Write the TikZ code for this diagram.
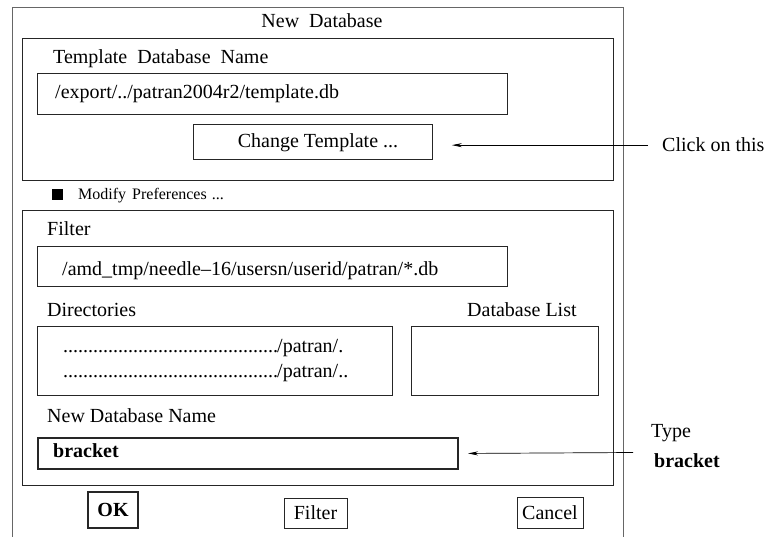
\documentclass[tikz,border=0pt]{standalone}
\usepackage{fontspec}
\setmainfont{Liberation Serif}
\usetikzlibrary{arrows.meta}

\begin{document}
\begin{tikzpicture}[x=1pt, y=-1pt, >={Stealth[length=10pt,width=4pt]}]
% Define styles
\tikzstyle{panel} = [rectangle, draw=black!85, line width=0.8pt, anchor=north west, inner sep=0pt]
\tikzstyle{button} = [rectangle, draw=black!85, line width=0.8pt, inner sep=0pt, font=\fontsize{20}{22}\selectfont]
\tikzstyle{txt} = [anchor=base west, inner sep=0pt, font=\fontsize{20}{22}\selectfont]
\tikzstyle{small} = [txt, font=\fontsize{16}{18}\selectfont]

\useasboundingbox (0,0) rectangle (767,537);

% Window frame
\draw [black!60, line width=1pt] (12,537) -- (12,8) -- (623,8) -- (623,537);
\node [txt, anchor=base] (title) at (322,28) {New\ \ Database};

% Template part
\node [panel, minimum width=591pt, minimum height=142pt] (tplpanel) at (22,38) {};
\node [txt] (tpllbl) at (53,64) {Template\ \ Database\ \ Name};
\node [panel, minimum width=470pt, minimum height=41pt] (tplfield) at (37,73) {};
\node [txt] (tplpath) at (55,99) {/export/../patran2004r2/template.db};
\node [panel, minimum width=239pt, minimum height=35pt] (chgbox) at (193,124) {};
\node [txt, anchor=base] (chglbl) at (318,148) {Change Template ...};

% Preferences toggle
\node [fill=black, anchor=north west, inner sep=0pt, minimum width=11pt, minimum height=11pt] (modbox) at (52,189) {};
\node [small] (modlbl) at (78,200) {Modify\hspace{6pt}Preferences\hspace{5pt}...};

% File part
\node [panel, minimum width=591pt, minimum height=275pt] (filepanel) at (22,210) {};
\node [txt] (filterlbl) at (47,235) {Filter};
\node [panel, minimum width=470pt, minimum height=40pt] (filterfield) at (37,246) {};
\node [txt] (filterpath) at (62,275) {/amd\_tmp/needle--16/usersn/userid/patran/*.db};
\node [txt] (dirlbl) at (47,316) {Directories};
\node [txt] (dblbl) at (467,316) {Database List};
\node [panel, minimum width=355pt, minimum height=69pt] (dirbox) at (37,326) {};
\node [txt] (dirone) at (63,352) {...........................................\kern-1pt/patran/.};
\node [txt] (dirtwo) at (63,377) {...........................................\kern-1pt/patran/..};
\node [panel, minimum width=187pt, minimum height=69pt] (dbbox) at (411,326) {};
\node [txt] (namelbl) at (47,422) {New Database Name};
\node [panel, line width=2pt, minimum width=420pt, minimum height=31pt] (namefield) at (37,437) {};
\node [txt, font=\fontsize{20}{22}\selectfont\bfseries] (nameval) at (53,457) {bracket};

% Buttons
\node [button, line width=1.5pt, minimum width=50pt, minimum height=36pt, font=\fontsize{20}{22}\selectfont\bfseries] (okbtn) at (113,510) {OK};
\node [button, minimum width=63pt, minimum height=30pt] (filterbtn) at (315.5,513) {Filter};
\node [button, minimum width=66pt, minimum height=31pt] (cancelbtn) at (550,512.5) {Cancel};

% Notes
\node [txt] (click) at (662,152) {Click on this};
\node [txt] (typelbl) at (651,437) {Type};
\node [txt, font=\fontsize{20}{22}\selectfont\bfseries] (typeval) at (654,467) {bracket};
\coordinate (typept) at (633,452.5);

% Connections
\draw [->, line width=0.7pt, shorten <=14pt, shorten >=19pt] (click.west) -- (click.west -| chgbox.east);
\draw [->, line width=0.7pt, shorten >=9pt] (typept) -- (namefield.east);

\end{tikzpicture}
\end{document}
